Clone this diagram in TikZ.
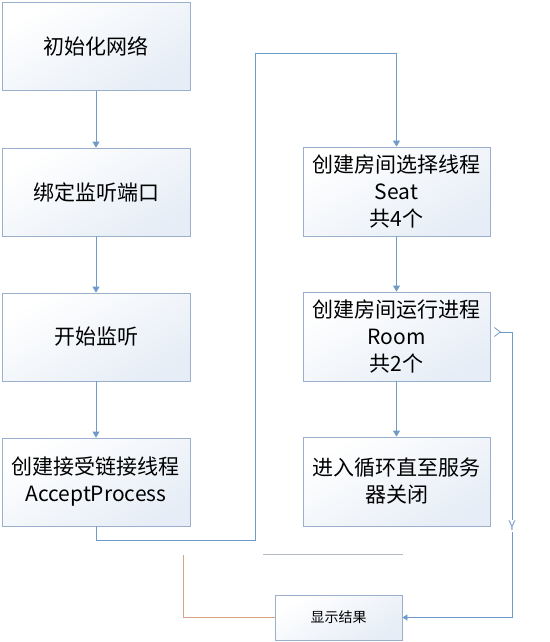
\documentclass[tikz,border=0pt]{standalone}
\usepackage{fontspec}
\setmainfont{Noto Sans CJK SC}
\usetikzlibrary{arrows.meta}
\definecolor{boxEdge}{HTML}{9AAFCB}
\definecolor{boxFill}{HTML}{E6EDF6}
\definecolor{flowBlue}{HTML}{6F9BCB}
\definecolor{backOrange}{HTML}{D9A384}
\definecolor{faintGray}{HTML}{B4BCC8}

\begin{document}
\begin{tikzpicture}
[x=1pt,y=-1pt,%
  stepBox/.style={shape=rectangle,draw=boxEdge,thick,top color=white,bottom color=boxFill,
    shading angle=30,align=center,font=\fontsize{21}{27}\selectfont,inner sep=0pt},%
  smallBox/.style={stepBox,font=\fontsize{14}{16}\selectfont},%
  lineFlow/.style={draw=flowBlue,thick,-{Triangle[width=7pt,length=6pt]}},%
  ylabel/.style={fill=white,inner sep=1pt,font=\fontsize{13}{14}\selectfont}]
\useasboundingbox (0,0) rectangle (549,642);
%% left column
\foreach \nodename/\y/\txt in {l1/46.5/{初始化网络}, l2/192/{绑定监听端口}, l3/337/{开始监听},
  l4/482/{创建接受链接线程\\AcceptProcess}}
{
  \node (\nodename) at (96,\y) [stepBox,minimum width=188pt,minimum height=88pt] {\txt};
}
%% right column
\foreach \nodename/\y/\txt in {r1/191.5/{创建房间选择线程\\Seat\\共4个}, r2/336.5/{创建房间运行进程\\Room\\共2个},
  r3/481.5/{进入循环直至服务\\器关闭}}
{
  \node (\nodename) at (396.5,\y) [stepBox,minimum width=187pt,minimum height=89pt] {\txt};
}
\node (show) at (338.5,617.5) [smallBox,minimum width=127pt,minimum height=45pt] {显示结果};
%% helper points
\coordinate (lowbend) at (255,540);
\coordinate (highbend) at (255,53);
\coordinate (orangetop) at (183,555);
\coordinate (grayleft) at (263,554);
\coordinate (grayright) at (403,554);
\coordinate (loopstart) at (494,332);
\coordinate (loopcorner) at (512,332);
%% edges
\path
\foreach \startnode/\endnode in {l1/l2, l2/l3, l3/l4, r1/r2, r2/r3}
{
  (\startnode) edge[lineFlow] (\endnode)
};
\draw[flowBlue,thick,-{Triangle[width=7pt,length=6pt]}] (l4.south) |- (lowbend) -- (highbend) -| (r1.north);
\draw[backOrange,thick] (orangetop) |- (show.west);
\draw[faintGray,thick] (grayleft) -- (grayright);
\draw[flowBlue,thick,{Straight Barb[reversed,length=6pt,width=9pt]}-{Triangle[width=6pt,length=5pt]}]
  (loopstart) -- (loopcorner) |- (show.east) node[ylabel,pos=0.34] {Y};
\end{tikzpicture}
\end{document}
